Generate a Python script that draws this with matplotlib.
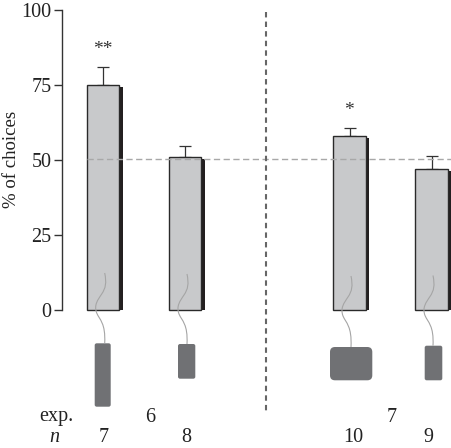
import matplotlib
matplotlib.use('Agg')
import matplotlib.pyplot as plt
from matplotlib.patches import FancyBboxPatch, PathPatch
from matplotlib.path import Path

plt.rcParams['font.family'] = ['Liberation Serif', 'DejaVu Serif']

# values
experiments = ['6', '7']
n_labels = ['7', '8', '10', '9']
choices = [75, 51, 58, 47]
errors = [6, 3.5, 2.6, 4.3]
stars = ['**', '', '*', '']
yticks = [0, 25, 50, 75, 100]

# bar left edges and the lure boxes are in image pixels
bar_left = [87, 169, 333.5, 415.5]
bar_width = 32.5
shadow_width = 3.5
lure_x = [94.7, 178, 330, 424.7]
lure_y = [343.3, 344, 347, 345.7]
lure_w = [16, 17.3, 42.3, 17.6]
lure_h = [63.4, 34.7, 33.3, 34.6]
lure_round = [2, 2, 5, 2]
worm_x = [104.7, 187, 351, 433]
worm_top = [273, 274, 276, 275.5]
n_x = [104, 186, 353, 428]

W, H = 452, 448
y0_px = 309.7
px_per_unit = 3.0

fig = plt.figure(figsize=(W / 100, H / 100), dpi=100)
ax = fig.add_axes([0, 0, 1, 1])
ax.set_xlim(0, W)
ax.set_ylim((y0_px - H) / px_per_unit, y0_px / px_per_unit)
ax.patch.set_visible(False)

for s in ['top', 'right', 'bottom']:
    ax.spines[s].set_visible(False)
ax.spines['left'].set_position(('data', 62))
ax.spines['left'].set_bounds(0, 100)
ax.spines['left'].set_color('#333333')
ax.spines['left'].set_linewidth(1.0)
ax.set_xticks([])
ax.set_yticks(yticks)
ax.tick_params(axis='y', length=5.5, width=1.0, color='#333333', labelsize=14.5,
               labelcolor='#222222', pad=2)

for i in range(4):
    # dark side strip, starts a bit below the top
    ax.bar(bar_left[i] + bar_width, choices[i] - 0.8, width=shadow_width, align='edge',
           color='#231f20', zorder=2)
    ax.bar(bar_left[i], choices[i], width=bar_width, align='edge', color='#c8c9cb',
           edgecolor='#2a2a2a', linewidth=1.0, zorder=3)
    xc = bar_left[i] + bar_width / 2
    ax.errorbar(xc, choices[i], yerr=[[0], [errors[i]]], color='#333333', elinewidth=0.9,
                capsize=4.5, capthick=0.9, zorder=2)
    if stars[i]:
        ax.text(xc - 0.5, choices[i] + errors[i] + 3.0, stars[i], ha='center', va='bottom',
                fontsize=14, color='#333333')

ax.axhline(50.2, xmin=87 / W, xmax=1, color='#a8a8a8', lw=1.0, dashes=(4.5, 2.5), zorder=4)
ax.text(12, 50, '% of choices', rotation=90, ha='center', va='center',
        fontsize=13.5, color='#222222')

# overlay in pixel coordinates for lures and bottom labels
ov = fig.add_axes([0, 0, 1, 1])
ov.set_xlim(0, W)
ov.set_ylim(H, 0)
ov.axis('off')
ov.patch.set_visible(False)

ov.plot([266, 266], [12, 411], color='#666666', lw=1.5, dashes=(2.6, 2.0))

for i in range(4):
    r = lure_round[i]
    ov.add_patch(FancyBboxPatch((lure_x[i] + r, lure_y[i] + r), lure_w[i] - 2 * r, lure_h[i] - 2 * r,
                                boxstyle=f'round,pad={r},rounding_size={r}', fc='#707174',
                                ec='none', zorder=5))
    x = worm_x[i]
    t = worm_top[i]
    b = lure_y[i]
    verts = [(x, t), (x + 2, t + 10), (x + 1, t + 15), (x - 3, t + 21),
             (x - 7, t + 27), (x - 11, t + 32), (x - 8, t + 40),
             (x - 5, t + 47), (x + 1, t + 50), (x, b)]
    codes = [Path.MOVETO] + [Path.CURVE4] * 9
    ov.add_patch(PathPatch(Path(verts, codes), fc='none', ec='#a5a5a5', lw=0.8, zorder=6))

ov.text(39, 417, 'exp.', fontsize=14.5, ha='left', va='center', color='#222222')
ov.text(150, 417, experiments[0], fontsize=14.5, ha='center', va='center', color='#222222')
ov.text(392, 417, experiments[1], fontsize=14.5, ha='center', va='center', color='#222222')
ov.text(54, 437, 'n', fontsize=14.5, style='italic', ha='center', va='center', color='#222222')
for i in range(4):
    ov.text(n_x[i], 437, n_labels[i], fontsize=14.5, ha='center', va='center', color='#222222')

fig.savefig('out.png', dpi=100)
